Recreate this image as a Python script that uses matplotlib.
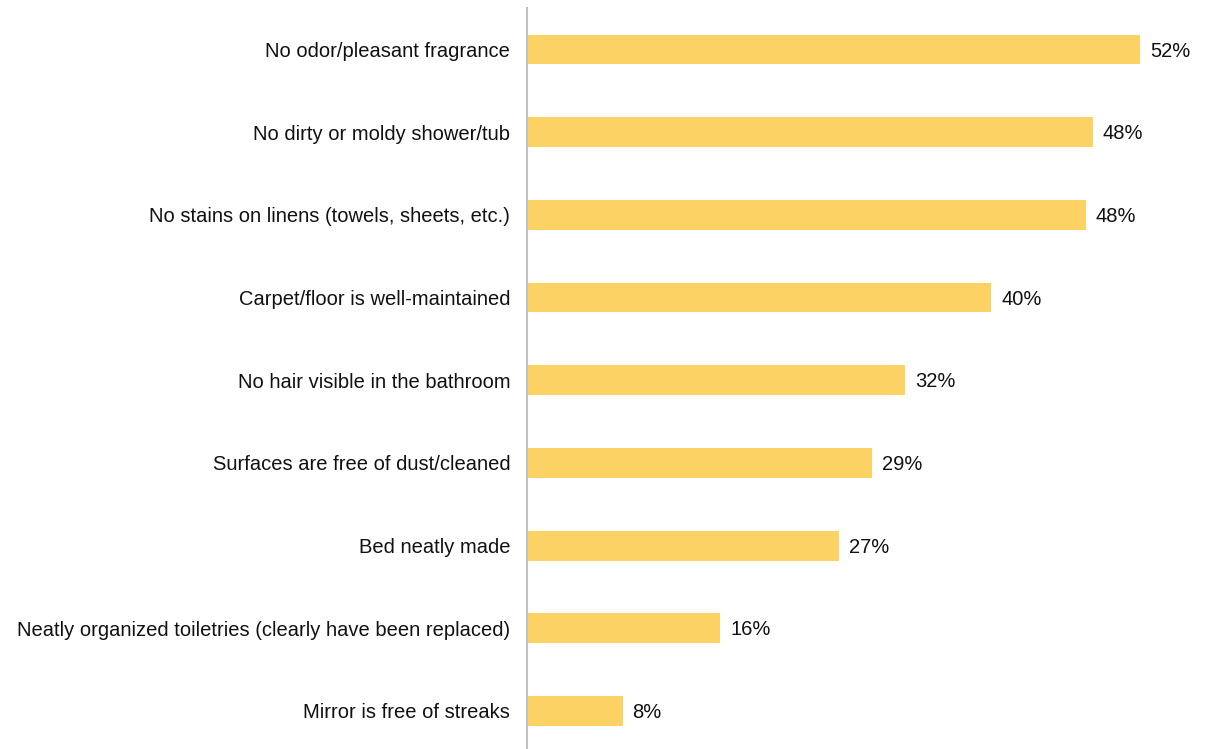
import matplotlib
matplotlib.use("Agg")
import matplotlib.pyplot as plt

# survey items, top to bottom
items = [
    "No odor/pleasant fragrance",
    "No dirty or moldy shower/tub",
    "No stains on linens (towels, sheets, etc.)",
    "Carpet/floor is well-maintained",
    "No hair visible in the bathroom",
    "Surfaces are free of dust/cleaned",
    "Bed neatly made",
    "Neatly organized toiletries (clearly have been replaced)",
    "Mirror is free of streaks",
]
# bar lengths
values = [52.0, 48.0, 47.4, 39.4, 32.1, 29.3, 26.5, 16.4, 8.1]
pct_labels = ["52%", "48%", "48%", "40%", "32%", "29%", "27%", "16%", "8%"]

plt.rcParams["font.family"] = ["Liberation Sans", "DejaVu Sans"]

fig = plt.figure(figsize=(12.06, 7.49), dpi=100)
ax = fig.add_axes([0.437, 0.0, 0.563, 0.989])

pos = list(range(len(items)))
ax.barh(pos, values, height=0.36, color="#FCD265", zorder=2)

for p, v, lab in zip(pos, values, pct_labels):
    ax.text(v + 0.85, p + 0.02, lab, va="center", ha="left", fontsize=14.5, color="#111111")

ax.set_yticks(pos)
ax.set_yticklabels(items, fontsize=14.5, color="#111111")
ax.tick_params(axis="y", length=0, pad=12)
ax.set_xticks([])
ax.set_xlim(0, 57.6)
ax.set_ylim(8.46, -0.5)

for s in ["top", "right", "bottom"]:
    ax.spines[s].set_visible(False)
ax.spines["left"].set_color("#BFBFBF")
ax.spines["left"].set_linewidth(1.5)

fig.savefig("out.png", dpi=100)
